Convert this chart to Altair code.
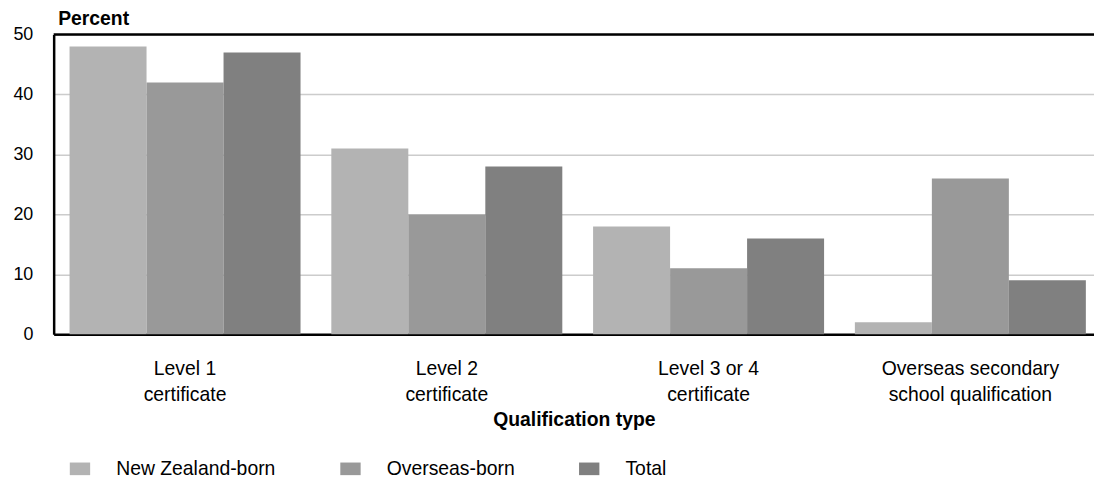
import altair as alt
import pandas as pd

categories = ["Level 1 certificate", "Level 2 certificate", "Level 3 or 4 certificate",
              "Overseas secondary school qualification"]
label_lines = {
    "Level 1 certificate": ["Level 1", "certificate"],
    "Level 2 certificate": ["Level 2", "certificate"],
    "Level 3 or 4 certificate": ["Level 3 or 4", "certificate"],
    "Overseas secondary school qualification": ["Overseas secondary", "school qualification"],
}
series = ["New Zealand-born", "Overseas-born", "Total"]
nz_born = [48, 31, 18, 2]
overseas_born = [42, 20, 11, 26]
total = [47, 28, 16, 9]
colors = ["#b3b3b3", "#999999", "#808080"]
y_ticks = [0, 10, 20, 30, 40, 50]

rows = []
for s, vals in zip(series, [nz_born, overseas_born, total]):
    for c, v in zip(categories, vals):
        rows.append({"cat": c, "series": s, "value": v})
df = pd.DataFrame(rows)

label_expr = " : ".join(
    [f"datum.value == '{k}' ? {v!r}" for k, v in label_lines.items()]
) + " : datum.value"

FONT = "Liberation Sans"
FS = 19.5
TFS = 19.5

bars = alt.Chart(df).mark_bar().encode(
    x=alt.X("cat:N", sort=categories,
            scale=alt.Scale(paddingInner=0.1176, paddingOuter=0.0459, align=0.661),
            axis=alt.Axis(title="Qualification type", labelExpr=label_expr,
                          labelAngle=0, labelFontSize=FS, labelLineHeight=27,
                          labelPadding=25, ticks=False, domainColor="black",
                          domainWidth=2.5, titleFontSize=TFS, titleFontWeight="bold",
                          titlePadding=6, labelColor="black", titleColor="black",
                          labelFont=FONT, titleFont=FONT, grid=False)),
    xOffset=alt.XOffset("series:N", sort=series, scale=alt.Scale(paddingInner=0, paddingOuter=0)),
    y=alt.Y("value:Q", scale=alt.Scale(domain=[0, 50], nice=False),
            axis=alt.Axis(title="Percent", values=y_ticks, titleAngle=0, titleAlign="left",
                          titleBaseline="alphabetic", titleX=4, titleY=-10,
                          titleFontSize=TFS, titleFontWeight="bold", titleColor="black",
                          labelFontSize=18, labelColor="black", labelPadding=21,
                          ticks=False, domainColor="black", domainWidth=2.5,
                          gridColor="#cccccc", gridWidth=1.5,
                          labelFont=FONT, titleFont=FONT)),
    color=alt.Color("series:N", sort=series,
                    scale=alt.Scale(domain=series, range=colors),
                    legend=alt.Legend(title=None, orient="none", direction="horizontal",
                                      legendX=16, legendY=427,
                                      symbolType="M-1,-0.62L1,-0.62L1,0.62L-1,0.62Z",
                                      symbolSize=420, symbolStrokeWidth=0,
                                      labelFontSize=FS, labelOffset=26, columnPadding=64.5,
                                      labelLimit=400,
                                      labelColor="black", labelFont=FONT)),
)

top_line = alt.Chart(pd.DataFrame({"y": [y_ticks[-1]]})).mark_rule(
    color="black", strokeWidth=2.5).encode(y="y:Q")

chart = alt.layer(bars, top_line).properties(
    width=1048, height=302,
    autosize=alt.AutoSizeParams(type="none"),
    padding={"left": 46, "top": 25, "right": 0, "bottom": 143},
).configure_view(stroke=None).configure(font=FONT)

chart.save("out.html", embed_options={"renderer": "svg", "actions": False})
